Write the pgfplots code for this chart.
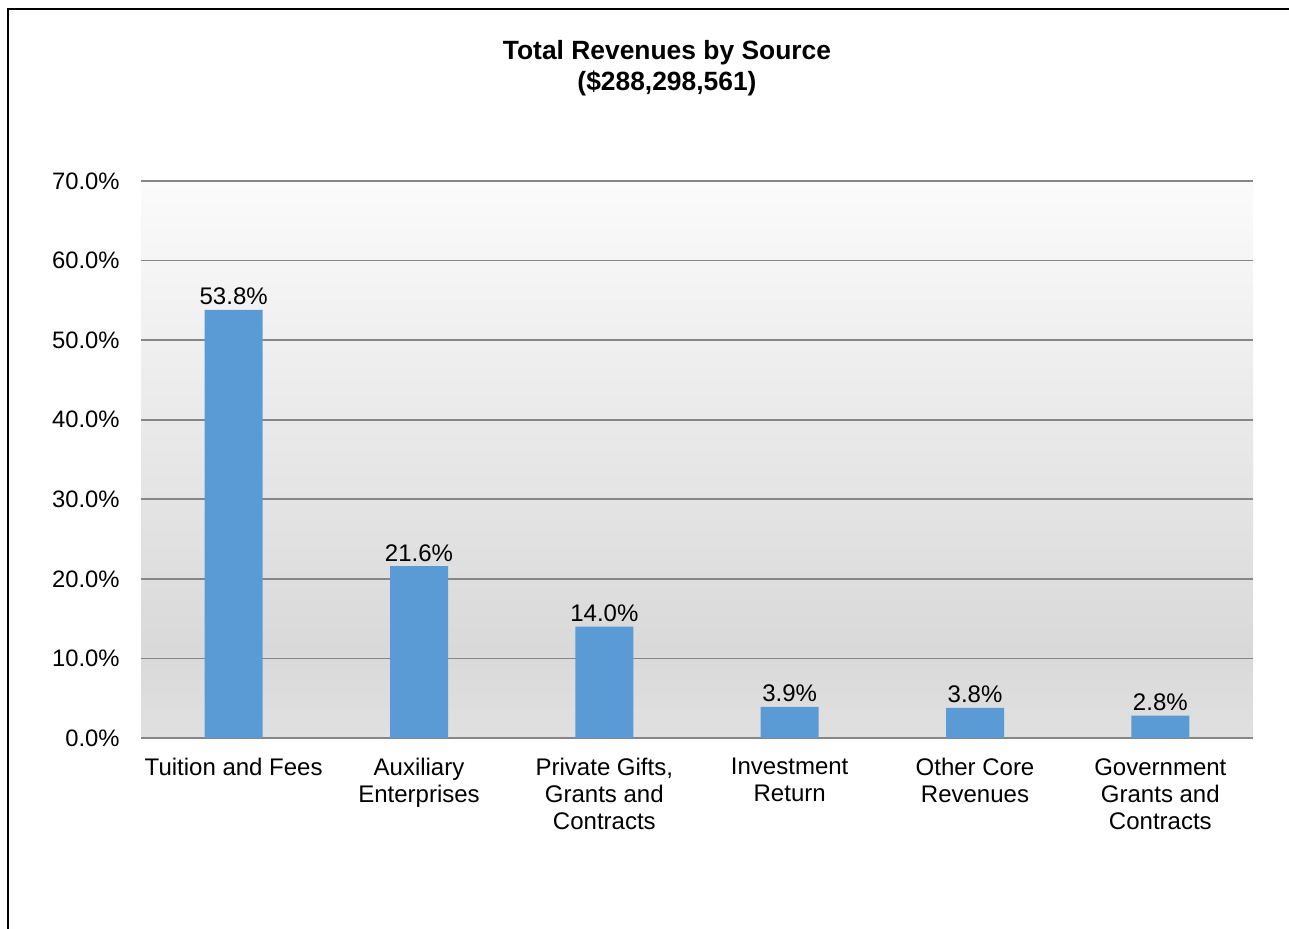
\documentclass[border=0pt]{standalone}
\usepackage{fontspec}
\setmainfont{Liberation Sans}
\usepackage{pgfplots}
\pgfplotsset{compat=1.18}
\definecolor{barblue}{HTML}{5B9BD5}
\definecolor{gridgray}{HTML}{868686}
\definecolor{bgtop}{HTML}{FBFBFB}
\definecolor{bgmid}{HTML}{D9D9D9}
\definecolor{bgbot}{HTML}{E0E0E0}
\pgfdeclareverticalshading{bgshade}{100bp}{color(0bp)=(bgbot); color(25bp)=(bgbot); color(33bp)=(bgmid); color(75bp)=(bgtop); color(100bp)=(bgtop)}
\begin{document}
\begin{tikzpicture}
\useasboundingbox (0,0) rectangle (644.5pt,464pt);
\draw[line width=1pt,black] (4pt,-1pt) -- (4pt,459.5pt) -- (646pt,459.5pt);
\node[anchor=base,font=\fontsize{13.2}{15.5}\selectfont\bfseries,inner sep=0pt] at (333.5pt,434pt) {Total Revenues by Source};
\node[anchor=base,font=\fontsize{13.2}{15.5}\selectfont\bfseries,inner sep=0pt] at (333.5pt,418.5pt) {(\$288,298,561)};
\begin{axis}[
  at={(70.5pt,95pt)}, anchor=south west,
  scale only axis, width=556pt, height=278.5pt,
  xmin=-0.5, xmax=5.5, ymin=0, ymax=70,
  axis line style={draw=none},
  major tick length=0pt,
  ytick={0,10,20,30,40,50,60,70},
  ymajorgrids,
  grid style={color=gridgray, line width=0.9pt},
  axis background/.style={shading=bgshade},
  yticklabel={\pgfmathprintnumber[assume math mode=true,fixed,fixed zerofill,precision=1]{\tick}\%},
  yticklabel style={font=\fontsize{11.9}{13.5}\selectfont, anchor=east, inner sep=0pt, xshift=-10.5pt},
  xtick=data,
  xticklabels={Tuition and Fees, {Auxiliary\\Enterprises}, {Private Gifts,\\Grants and\\Contracts}, {Investment\\Return}, {Other Core\\Revenues}, {Government\\Grants and\\Contracts}},
  xticklabel style={font=\fontsize{12}{13.5}\selectfont, align=center, anchor=north, inner sep=0pt, yshift=-10pt},
  ybar, bar width=29pt,
  nodes near coords={\pgfmathprintnumber[assume math mode=true,fixed,fixed zerofill,precision=1]{\pgfplotspointmeta}\%},
  every node near coord/.append style={font=\fontsize{12}{13.5}\selectfont, anchor=base, inner sep=0pt, yshift=2.5pt, black},
  clip=false,
]
\addplot[fill=barblue, draw=none] coordinates {(0,53.8) (1,21.6) (2,14.0) (3,3.9) (4,3.8) (5,2.8)};
\end{axis}
\end{tikzpicture}
\end{document}
